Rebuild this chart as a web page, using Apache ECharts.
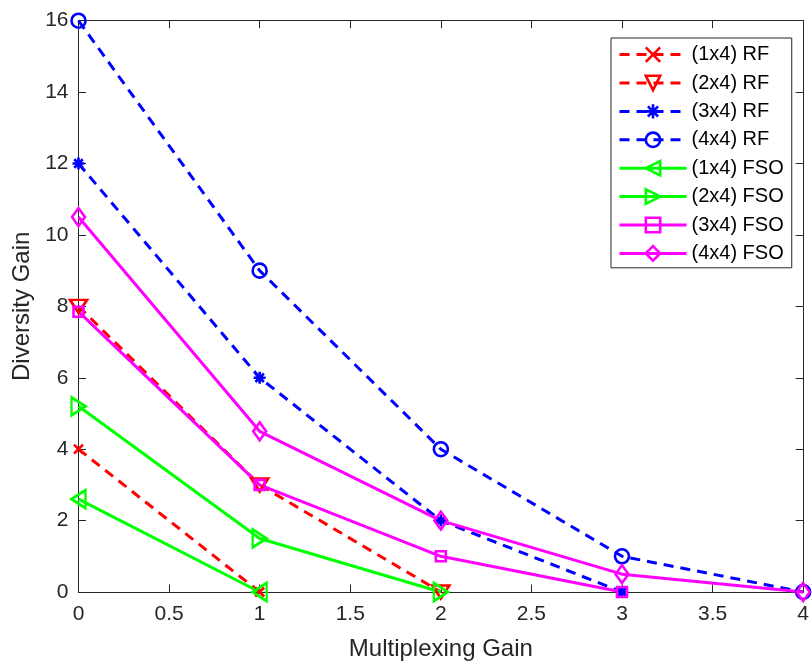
<!DOCTYPE html>
<html>
<head>
<meta charset="utf-8">
<script src="https://cdn.jsdelivr.net/npm/echarts@6/dist/echarts.min.js"></script>
<style>
html,body{margin:0;padding:0;background:#fff;}
#chart{width:812px;height:666px;}
</style>
</head>
<body>
<div id="chart"></div>
<script>
// ---- data ----
var seriesNames = ['(1x4) RF','(2x4) RF','(3x4) RF','(4x4) RF','(1x4) FSO','(2x4) FSO','(3x4) FSO','(4x4) FSO'];
var x1 = [0, 1];
var x2 = [0, 1, 2];
var x3 = [0, 1, 2, 3];
var x4 = [0, 1, 2, 3, 4];
var rf1x4 = [4, 0];
var rf2x4 = [8, 3, 0];
var rf3x4 = [12, 6, 2, 0];
var rf4x4 = [16, 9, 4, 1, 0];
var fso1x4 = [2.6, 0];
var fso2x4 = [5.2, 1.5, 0];
var fso3x4 = [7.85, 3, 1, 0];
var fso4x4 = [10.5, 4.5, 2, 0.5, 0];
var xTicks = [0, 0.5, 1, 1.5, 2, 2.5, 3, 3.5, 4];
var yTicks = [0, 2, 4, 6, 8, 10, 12, 14, 16];

function pairs(xs, ys){ return xs.map(function(x,i){ return [x, ys[i]]; }); }

var FONT = "'Liberation Sans', Arial, Helvetica, sans-serif";
var AX = '#262626';

function mk(name, xs, ys, color, dashed, symbol, size, rotate){
  return {
    name: name,
    type: 'line',
    data: pairs(xs, ys),
    clip: false,
    symbol: symbol,
    symbolSize: size,
    symbolRotate: rotate || 0,
    showAllSymbol: true,
    lineStyle: { color: color, width: 3, type: dashed ? [10, 7] : 'solid' },
    itemStyle: { color: 'transparent', borderColor: color, borderWidth: 2.6 },
    emphasis: { disabled: true },
    animation: false
  };
}

var XMARK = 'path://M0,0L10,10M10,0L0,10';
var STAR = 'path://M5,0L5,10M0,5L10,5M1.46,1.46L8.54,8.54M8.54,1.46L1.46,8.54';

var series = [
  mk(seriesNames[0], x1, rf1x4, '#ff0000', true, XMARK, 9),
  mk(seriesNames[1], x2, rf2x4, '#ff0000', true, 'triangle', [17, 13], 180),
  mk(seriesNames[2], x3, rf3x4, '#0000ff', true, STAR, 12),
  mk(seriesNames[3], x4, rf4x4, '#0000ff', true, 'circle', 14),
  mk(seriesNames[4], x1, fso1x4, '#00ff00', false, 'triangle', [18, 14], 90),
  mk(seriesNames[5], x2, fso2x4, '#00ff00', false, 'triangle', [18, 14], -90),
  mk(seriesNames[6], x3, fso3x4, '#ff00ff', false, 'rect', 10),
  mk(seriesNames[7], x4, fso4x4, '#ff00ff', false, 'diamond', [13, 18])
];

var chart = echarts.init(document.getElementById('chart'), null, {renderer: 'canvas'});
var axisCommonX = {
  type: 'value', min: xTicks[0], max: xTicks[xTicks.length-1], interval: xTicks[1]-xTicks[0],
  axisLine: { show: true, onZero: false, lineStyle: { color: AX, width: 1 } },
  axisTick: { show: true, inside: true, length: 7.5, lineStyle: { color: AX, width: 1 } },
  splitLine: { show: false }
};
var axisCommonY = {
  type: 'value', min: yTicks[0], max: yTicks[yTicks.length-1], interval: yTicks[1]-yTicks[0],
  axisLine: { show: true, onZero: false, lineStyle: { color: AX, width: 1 } },
  axisTick: { show: true, inside: true, length: 7.5, lineStyle: { color: AX, width: 1 } },
  splitLine: { show: false }
};

chart.setOption({
  animation: false,
  backgroundColor: '#ffffff',
  textStyle: { fontFamily: FONT },
  grid: { left: 78.5, right: 4.5, top: 20.7, bottom: 71.7, containLabel: false },
  legend: {
    data: seriesNames,
    orient: 'vertical',
    left: 611,
    top: 38,
    itemWidth: 67,
    itemHeight: 18,
    itemGap: 8.4,
    padding: [6.6, 8, 4.4, 7],
    backgroundColor: '#ffffff',
    borderColor: AX,
    borderWidth: 1,
    borderRadius: 0,
    selectedMode: false,
    lineStyle: { width: 3 },
    itemStyle: { borderWidth: 2.6 },
    textStyle: { fontFamily: FONT, fontSize: 20, color: '#000', lineHeight: 18 }
  },
  xAxis: [
    Object.assign({}, axisCommonX, {
      position: 'bottom',
      name: 'Multiplexing Gain', nameLocation: 'middle', nameGap: 45,
      nameTextStyle: { fontFamily: FONT, fontSize: 24, color: AX },
      axisLabel: { show: true, margin: 12, color: AX, fontSize: 21, fontFamily: FONT, showMinLabel: true, showMaxLabel: true }
    }),
    Object.assign({}, axisCommonX, { position: 'top', axisLabel: { show: false } })
  ],
  yAxis: [
    Object.assign({}, axisCommonY, {
      position: 'left',
      name: 'Diversity Gain', nameLocation: 'middle', nameGap: 41,
      nameTextStyle: { fontFamily: FONT, fontSize: 24, color: AX },
      axisLabel: { show: true, margin: 10, color: AX, fontSize: 21, fontFamily: FONT, showMinLabel: true, showMaxLabel: true }
    }),
    Object.assign({}, axisCommonY, { position: 'right', axisLabel: { show: false } })
  ],
  series: series
});
</script>
</body>
</html>
